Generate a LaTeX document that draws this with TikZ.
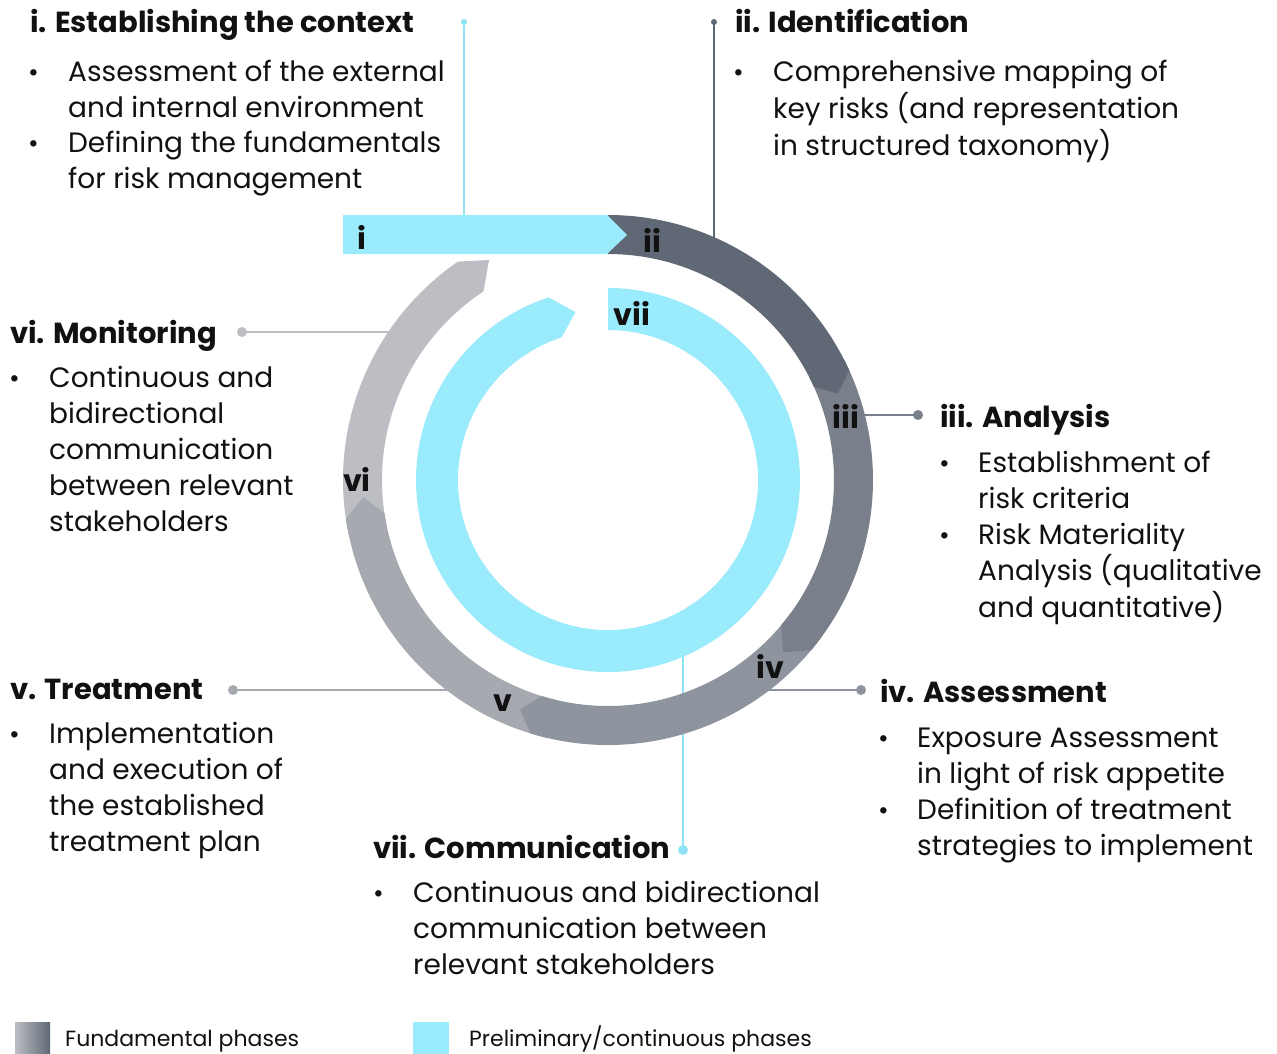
\documentclass[tikz,border=0pt]{standalone}
\usepackage{fontspec}
\setmainfont{Poppins}
\usetikzlibrary{calc}
\definecolor{cy}{HTML}{9AEBFB}
\definecolor{cyline}{HTML}{8EE3F5}
\definecolor{gii}{HTML}{5F6874}
\definecolor{giii}{HTML}{7A808B}
\definecolor{giv}{HTML}{8E949D}
\definecolor{gv}{HTML}{A6AAB0}
\definecolor{gvi}{HTML}{BCBEC3}
\definecolor{ink}{HTML}{111111}
\newcommand\lines[1]{\begin{tabular}[t]{@{}l@{}}#1\end{tabular}}
\newcommand\ringseg[4]{\fill[#1] ($(C)+(#2:265)$) arc[start angle=#2, end angle=#3, radius=265pt] -- ($(C)+(#4:245.5)$) -- ($(C)+(#3:226)$) arc[start angle=#3, end angle=#2, radius=226pt] -- cycle;}
\begin{document}
\begin{tikzpicture}[x=1pt,y=1pt,
  head/.style={anchor=base west, inner sep=0pt, font=\fontsize{29}{36}\selectfont\bfseries, text=ink},
  body/.style={anchor=base west, inner sep=0pt, font=\fontsize{28}{36}\selectfont, text=ink},
  blt/.style={anchor=base west, inner sep=0pt, font=\fontsize{26}{36}\selectfont, text=ink},
  lbl/.style={font=\fontsize{30}{32}\selectfont\bfseries, text=ink, inner sep=0pt},
  legend/.style={anchor=base west, inner sep=0pt, font=\fontsize{22}{28}\selectfont, text=ink},
  dot/.style={circle, inner sep=0pt, minimum size=10pt},
  sdot/.style={circle, inner sep=0pt, minimum size=6pt},
  conn/.style={line width=1.8pt},
]
\useasboundingbox (0,0) rectangle (1277,-1054);
\coordinate (C) at (608,-480);

% connectors (under the rings)
\node[sdot, fill=cyline] (d1) at (464,-22) {};
\coordinate (e1) at (464,-220);
\draw[conn, cyline] (d1.center) -- (e1);
\node[sdot, fill=gii] (d2) at (714,-22) {};
\coordinate (e2) at (714,-245);
\draw[conn, gii] (d2.center) -- (e2);
\node[dot, fill=giii] (d3) at (918,-415) {};
\coordinate (e3) at (855,-415);
\draw[conn, giii] (e3) -- (d3.center);
\node[dot, fill=giv] (d4) at (861,-690) {};
\coordinate (e4) at (760,-690);
\draw[conn, giv] (e4) -- (d4.center);
\node[dot, fill=gv] (d5) at (233,-690) {};
\coordinate (e5) at (455,-690);
\draw[conn, gv] (d5.center) -- (e5);
\node[dot, fill=gvi] (d6) at (242,-332) {};
\coordinate (e6) at (395,-332);
\draw[conn, gvi] (d6.center) -- (e6);
\node[dot, fill=cyline] (d7) at (683,-850) {};
\coordinate (e7) at (683,-650);
\draw[conn, cyline] (e7) -- (d7.center);

% outer ring
\fill[gvi] ($(C)+(124.5:265)$) arc[start angle=124.5, end angle=192, radius=265pt] -- ($(C)+(192:226)$) arc[start angle=192, end angle=123.4, radius=226pt] -- (489,-260) -- cycle;
\ringseg{gv}{-103}{-171.5}{-176}
\ringseg{giv}{-36}{-107}{-111}
\ringseg{giii}{27}{-40}{-44.5}
\ringseg{gii}{90}{24.4}{20.6}
\fill[cy] (343,-215) -- (607,-215) -- (627,-235) -- (607,-254) -- (343,-254) -- cycle;

% inner ring
\fill[cy] ($(C)+(90:192)$) arc[start angle=90, end angle=-252, radius=192pt] -- ($(C)+(-259:171)$) -- ($(C)+(-252:150)$) arc[start angle=-252, end angle=90, radius=150pt] -- cycle;

% ring labels
\node[lbl] (li) at (362,-237) {i};
\node[lbl] (lii) at (652,-240) {ii};
\node[lbl] (liii) at (846,-416) {iii};
\node[lbl] (liv) at (770,-666) {iv};
\node[lbl] (lv) at (503,-703) {v};
\node[lbl] (lvi) at (357,-479) {vi};
\node[lbl] (lvii) at (632,-313) {vii};

% text blocks
\node[head] (hi) at (30,-33) {i. Establishing the context};
\node[blt] (bi1) at (28,-82) {•};
\node[body] (ti1) at (68,-82) {\lines{Assessment of the external\\and internal environment}};
\node[blt] (bi2) at (28,-153) {•};
\node[body] (ti2) at (68,-153) {\lines{Defining the fundamentals\\for risk management}};

\node[head] (hii) at (735,-33) {ii. Identification};
\node[blt] (bii1) at (733,-82) {•};
\node[body] (tii1) at (773,-82) {\lines{Comprehensive mapping of\\key risks (and representation\\in structured taxonomy)}};

\node[head] (hvi) at (10,-343) {vi. Monitoring};
\node[blt] (bvi1) at (9,-387) {•};
\node[body] (tvi1) at (49,-387) {\lines{Continuous and\\bidirectional\\communication\\between relevant\\stakeholders}};

\node[head] (hiii) at (940,-427) {iii. Analysis};
\node[blt] (biii1) at (939,-472) {•};
\node[body] (tiii1) at (978,-472) {\lines{Establishment of\\risk criteria}};
\node[blt] (biii2) at (939,-544) {•};
\node[body] (tiii2) at (978,-544) {\lines{Risk Materiality\\Analysis (qualitative\\and quantitative)}};

\node[head] (hv) at (10,-699) {v. Treatment};
\node[blt] (bv1) at (9,-743) {•};
\node[body] (tv1) at (49,-743) {\lines{Implementation\\and execution of\\the established\\treatment plan}};

\node[head] (hiv) at (880,-702) {iv. Assessment};
\node[blt] (biv1) at (878,-747) {•};
\node[body] (tiv1) at (917,-747) {\lines{Exposure Assessment\\in light of risk appetite}};
\node[blt] (biv2) at (878,-819) {•};
\node[body] (tiv2) at (917,-819) {\lines{Definition of treatment\\strategies to implement}};

\node[head] (hvii) at (373,-858) {vii. Communication};
\node[blt] (bvii1) at (373,-902) {•};
\node[body] (tvii1) at (413,-902) {\lines{Continuous and bidirectional\\communication between\\relevant stakeholders}};

% legend
\shade[left color=gvi, right color=gii] (15,-1022) rectangle (50,-1054);
\node[legend] (lg1) at (65,-1046) {Fundamental phases};
\fill[cy] (413,-1022) rectangle (449,-1054);
\node[legend] (lg2) at (469,-1046) {Preliminary/continuous phases};
\end{tikzpicture}
\end{document}
